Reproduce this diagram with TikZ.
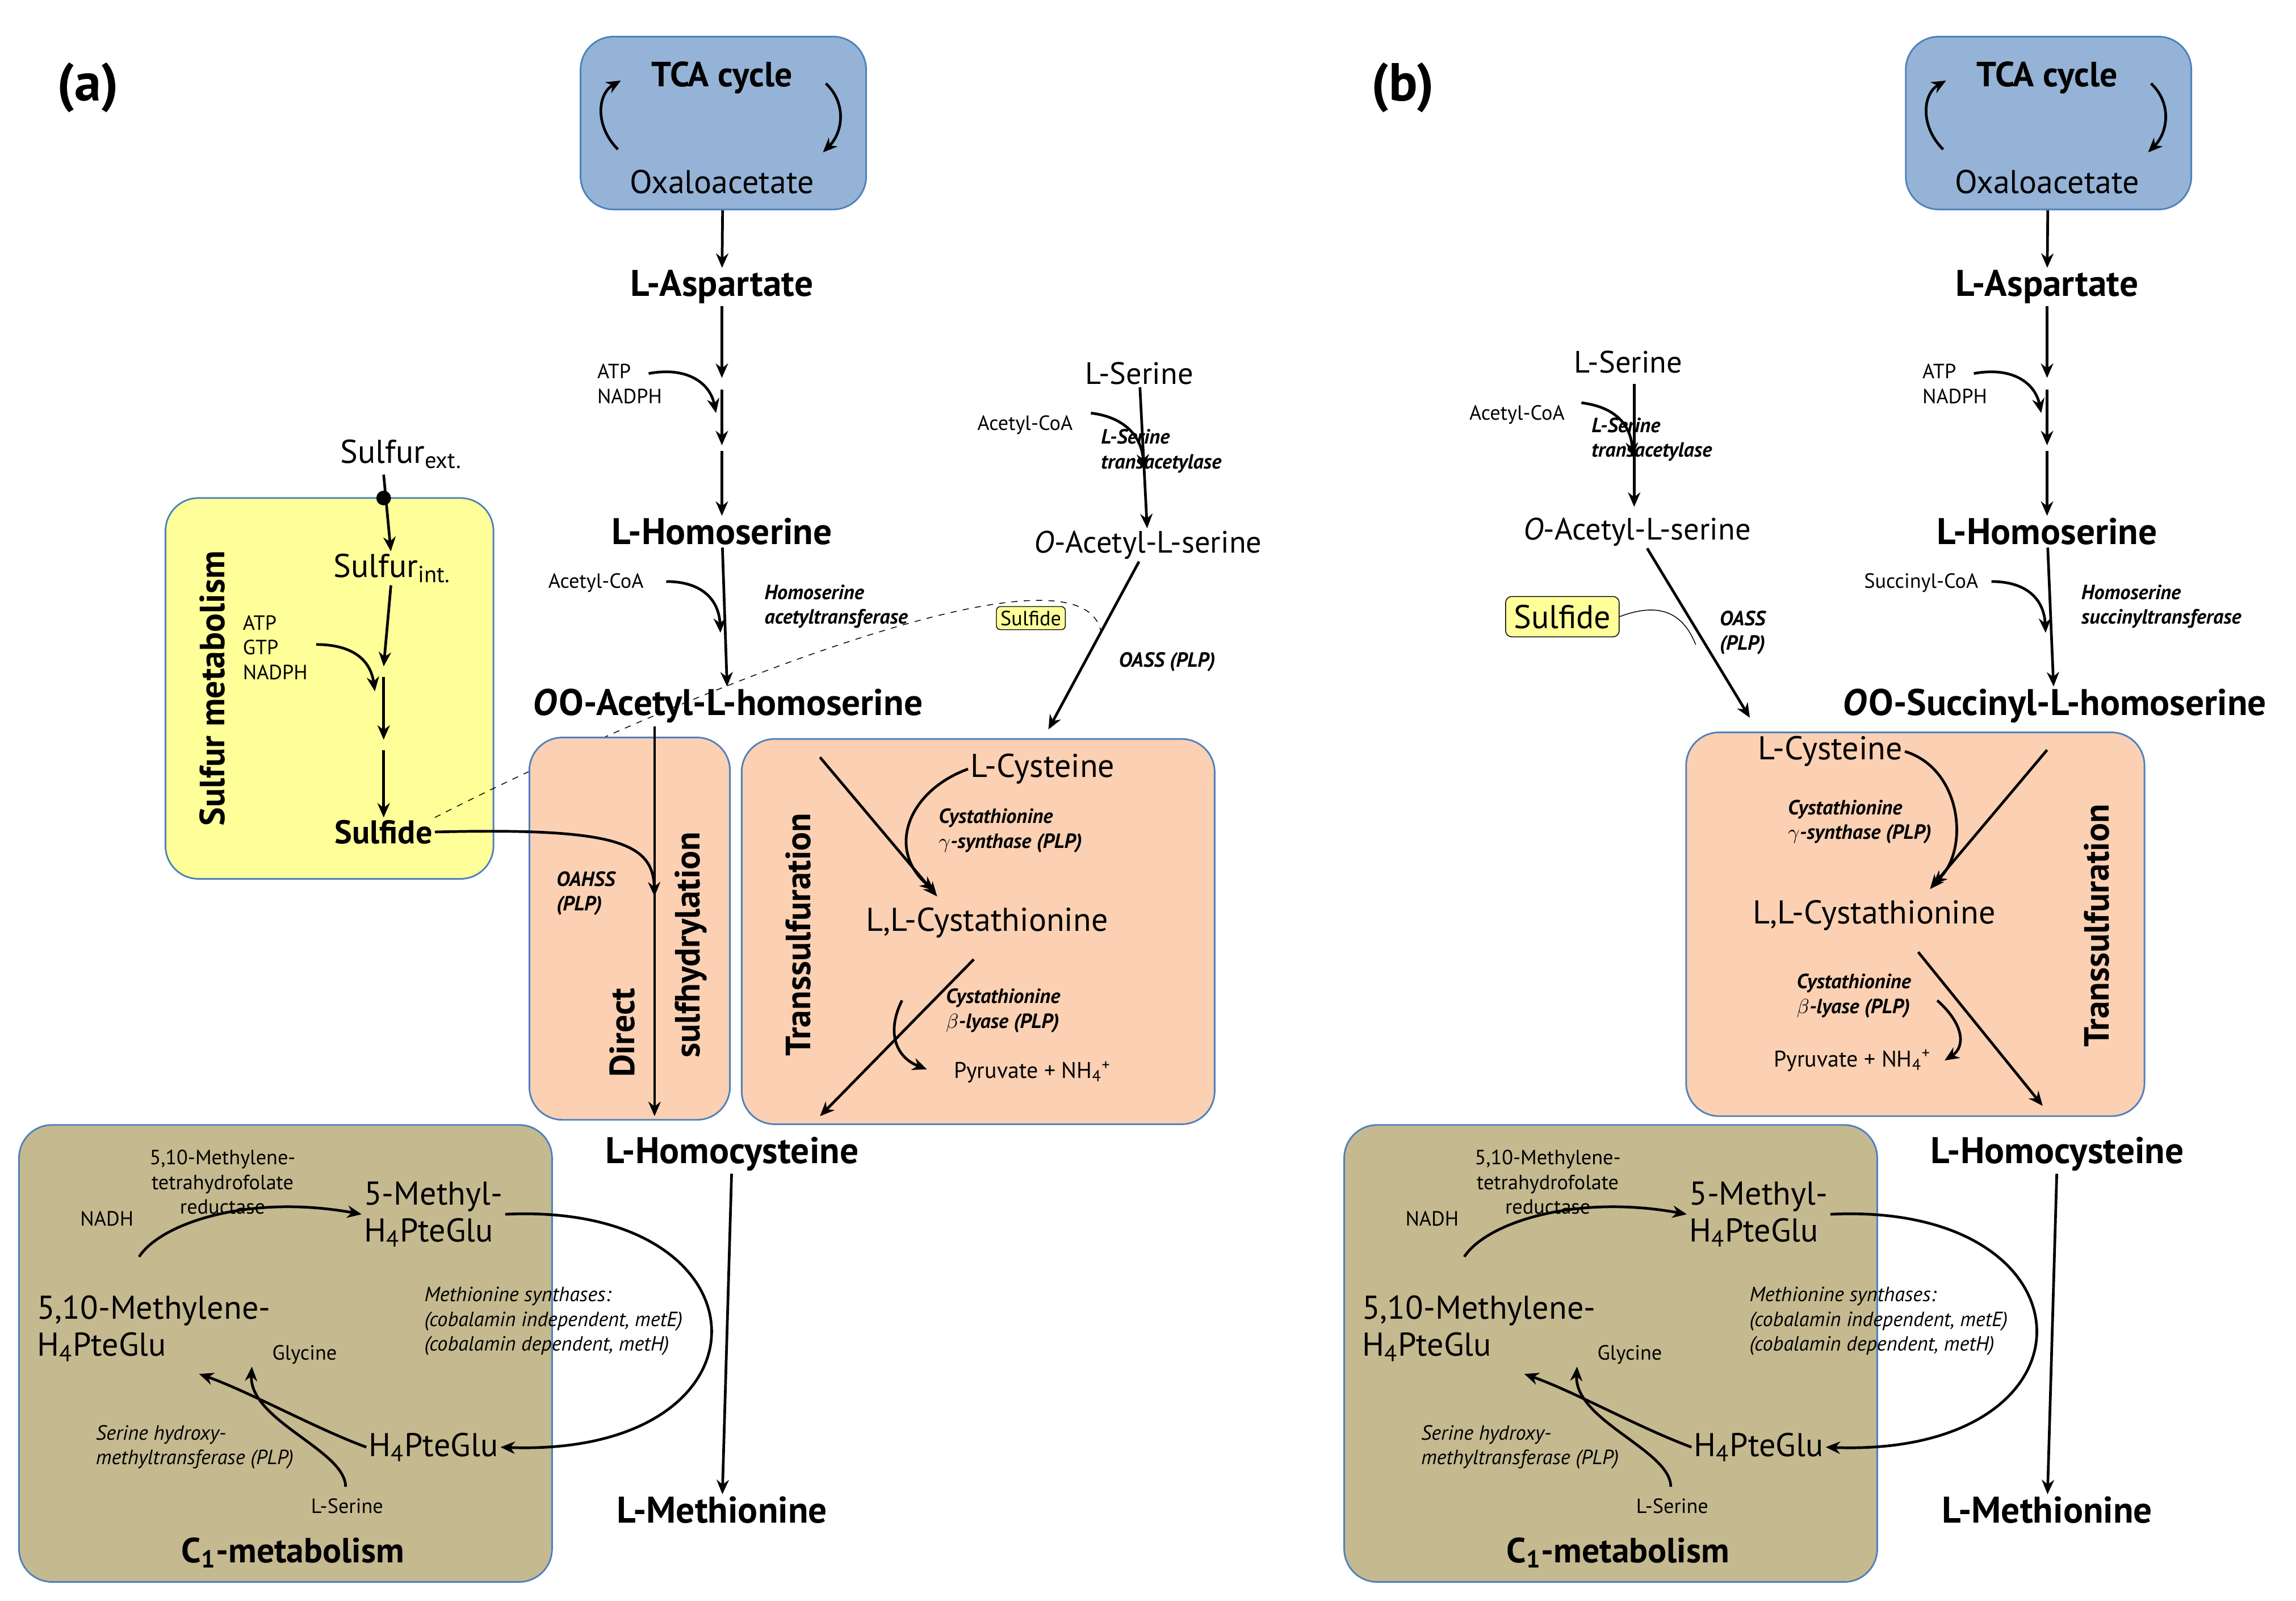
\documentclass[tikz,border=0pt]{standalone}
\usepackage{fontspec}
\setmainfont{PT Sans}
\usetikzlibrary{arrows.meta}
\definecolor{tcablue}{HTML}{95B3D7}
\definecolor{boxline}{HTML}{4F81BD}
\definecolor{peach}{HTML}{FBD0B3}
\definecolor{sulfy}{HTML}{FFFF99}
\definecolor{khaki}{HTML}{C5B98F}
\tikzset{
  met/.style={font=\fontsize{18}{20}\selectfont\bfseries,inner sep=1pt},
  cmp/.style={font=\fontsize{15}{17}\selectfont,inner sep=1pt,align=center},
  sml/.style={font=\fontsize{10}{12}\selectfont,inner sep=1pt,align=left},
  enz/.style={font=\fontsize{10}{12}\selectfont\bfseries\itshape,inner sep=1pt,align=left},
  ita/.style={font=\fontsize{10}{12}\selectfont\itshape,inner sep=1pt,align=left},
  ttl/.style={font=\fontsize{17}{19}\selectfont\bfseries,inner sep=1pt},
  box/.style={draw=boxline,line width=0.8pt,rounded corners=16pt},
  rxn/.style={-{Stealth[length=7pt,width=6pt]},line width=1.3pt},
}
\begin{document}
\begin{tikzpicture}[x=0.025cm,y=-0.025cm]
\useasboundingbox (0,0) rectangle (1568,1093);
%% shared parts of both panels
\foreach \dx/\p/\hs/\hsc/\ac/\en in {0/a/O-Acetyl/Acetyl-CoA/acetyl/497,905/b/O-Succinyl/Succinyl-CoA/succinyl/498}{
\begin{scope}[xshift=\dx*0.025cm]
  \node[box,fill=tcablue,minimum width=195*0.025cm,minimum height=118*0.025cm] (tca\p) at (494,84) {};
  \node[ttl] (tcat\p) at (493,53) {TCA cycle};
  \node[cmp,font=\fontsize{16}{18}\selectfont] (oaa\p) at (493,124) {Oxaloacetate};
  \draw[rxn] (422,102) .. controls (406,86) and (408,64) .. (424,55);
  \draw[rxn] (564,57) .. controls (578,70) and (576,90) .. (562,104);
  \node[met] (asp\p) at (493,196) {L-Aspartate};
  \node[met] (hser\p) at (493,363) {L-Homoserine};
  \coordinate (s1\p) at (493,258);
  \coordinate (s2\p) at (493,308);
  \node[sml] (atp\p) at (430,262) {ATP\\NADPH};
  \draw[rxn] (tca\p) -- (asp\p);
  \draw[rxn] (asp\p) -- (s1\p);
  \draw[rxn] (s1\p) ++(0,8) -- ++(0,38);
  \draw[rxn] (s2\p) -- (hser\p);
  \draw[rxn] (443,255) .. controls (470,250) and (485,262) .. (489,282);
  \node[sml] (acoa\p) at ({\ifx\p a 412\else 407\fi},398) {\hsc};
  \node[enz] (hat\p) at (571,414) {Homoserine\\\ac transferase};
  \node[met] (ahs\p) at (\en,482) {\textit{O}\kern1pt\hs-L-homoserine};
  \node[met] (hcy\p) at (500,788) {L-Homocysteine};
  \node[met] (met\p) at (493,1031) {L-Methionine};
  \draw[rxn] (hser\p) -- (ahs\p);
  \draw[rxn] (455,397) .. controls (480,397) and (491,410) .. (492,432);
  \draw[rxn] (hcy\p) -- (met\p);
  % C1 metabolism
  \node[box,fill=khaki,minimum width=364*0.025cm,minimum height=312*0.025cm] (cbox\p) at (195,924) {};
  \node[ttl] (c1\p) at (200,1060) {C\textsubscript{1}-metabolism};
  \node[cmp,font=\fontsize{16}{18}\selectfont,align=left] (mth\p) at (296,829) {5-Methyl-\\H\textsubscript{4}PteGlu};
  \node[cmp,font=\fontsize{16}{18}\selectfont,align=left] (mlh\p) at (105,907) {5,10-Methylene-\\H\textsubscript{4}PteGlu};
  \node[cmp,font=\fontsize{16}{18}\selectfont] (thf\p) at (296,988) {H\textsubscript{4}PteGlu};
  \node[sml,align=center] (mtr\p) at (152,807) {5,10-Methylene-\\tetrahydrofolate\\reductase};
  \node[sml] (nadh\p) at (73,832) {NADH};
  \node[sml] (gly\p) at (208,925) {Glycine};
  \node[sml] (lser\p) at (237,1028) {L-Serine};
  \node[ita,align=left] (shm\p) at (133,988) {Serine hydroxy-\\methyltransferase (PLP)};
  \node[ita] (ms\p) at (378,902) {Methionine synthases:\\(cobalamin independent, \textit{metE})\\(cobalamin dependent, \textit{metH})};
  \draw[rxn] (mth\p.east) .. controls (530,820) and (535,995) .. (thf\p.east);
  \draw[rxn] (95,858) .. controls (110,835) and (170,815) .. (mth\p.west);
  \draw[rxn] (thf\p.west) .. controls (215,975) and (170,950) .. (136,938);
  \draw[rxn] (236,1015) .. controls (236,990) and (170,970) .. (172,933);
\end{scope}}
%% panel (a)
\node[font=\fontsize{26}{28}\selectfont\bfseries] (la) at (60,60) {(a)};
\node[box,fill=sulfy,minimum width=224*0.025cm,minimum height=260*0.025cm] (sbox) at (225,470) {};
\node[ttl,rotate=90] (smet) at (145,470) {Sulfur metabolism};
\node[cmp,font=\fontsize{16}{18}\selectfont] (sext) at (274,310) {Sulfur\textsubscript{ext.}};
\node[cmp,font=\fontsize{16}{18}\selectfont] (sint) at (268,388) {Sulfur\textsubscript{int.}};
\node[met,font=\fontsize{16}{18}\selectfont\bfseries] (sulf) at (262,568) {Sulfide};
\node[sml] (atpg) at (188,442) {ATP\\GTP\\NADPH};
\fill (262,340) circle (5);
\draw[rxn] (262,324) -- (sint);
\coordinate (t1) at (262,455);
\coordinate (t2) at (262,505);
\draw[rxn] (sint) -- (t1);
\draw[rxn] (262,462) -- (t2);
\draw[rxn] (262,512) -- (sulf);
\draw[rxn] (216,440) .. controls (240,440) and (253,450) .. (256,472);
\node[cmp] (ser) at (778,255) {L-Serine};
\node[cmp] (oas) at (784,372) {\textit{O}-Acetyl-L-serine};
\node[sml] (acs) at (700,290) {Acetyl-CoA};
\node[enz] (sat) at (793,308) {L-Serine\\transacetylase};
\draw[rxn] (ser) -- (oas);
\draw[rxn] (745,282) .. controls (770,285) and (780,300) .. (781,320);
\node[sml,draw=black,fill=sulfy,rounded corners=2pt,inner sep=2pt] (ssm) at (704,422) {Sulfide};
\node[enz] (oass) at (797,452) {OASS (PLP)};
\draw[dashed] (sulf.north east) .. controls (450,480) and (740,360) .. (752,432);
% sulfhydrylation and transsulfuration
\node[box,fill=peach,minimum width=137*0.025cm,minimum height=261*0.025cm] (dbox) at (430,634) {};
\node[box,fill=peach,minimum width=323*0.025cm,minimum height=263*0.025cm] (tbox) at (668,636) {};
\node[ttl,rotate=90] (dir) at (425,705) {Direct};
\node[ttl,rotate=90] (sulfh) at (472,645) {sulfhydrylation};
\node[ttl,rotate=90] (tsa) at (545,638) {Transsulfuration};
\draw[rxn] (oas) -- (716,498);
\coordinate (dtop) at (447,496);
\coordinate (dbot) at (447,762);
\draw[rxn] (dtop) -- (dbot);
\draw[rxn] (sulf.east) .. controls (420,565) and (446,575) .. (447,612);
\node[enz] (oahss) at (400,610) {OAHSS\\(PLP)};
\node[cmp,font=\fontsize{16}{18}\selectfont] (cys) at (712,525) {L-Cysteine};
\node[cmp,font=\fontsize{16}{18}\selectfont] (cth) at (674,630) {L,L-Cystathionine};
\node[enz] (cgs) at (690,567) {Cystathionine\\$\gamma$-synthase (PLP)};
\node[enz] (cbl) at (685,690) {Cystathionine\\$\beta$-lyase (PLP)};
\node[sml,font=\fontsize{11}{13}\selectfont] (pyr) at (705,732) {Pyruvate + NH\textsubscript{4}\textsuperscript{+}};
\draw[rxn] (560,517) -- (640,612);
\draw[rxn] (cys.west) .. controls (620,540) and (605,580) .. (638,608);
\draw[rxn] (665,655) -- (560,762);
\draw[rxn] (616,683) .. controls (605,705) and (612,722) .. (633,730);
%% panel (b)
\node[font=\fontsize{26}{28}\selectfont\bfseries] (lb) at (958,60) {(b)};
\node[cmp] (serb) at (1112,247) {L-Serine};
\node[cmp] (oasb) at (1118,363) {\textit{O}-Acetyl-L-serine};
\node[sml] (acsb) at (1036,283) {Acetyl-CoA};
\node[enz] (satb) at (1128,300) {L-Serine\\transacetylase};
\draw[rxn] (1116,262) -- (1116,346);
\draw[rxn] (1080,275) .. controls (1105,278) and (1114,292) .. (1115,312);
\node[cmp,font=\fontsize{16}{18}\selectfont,draw=black,fill=sulfy,rounded corners=3pt,inner sep=4pt] (ssmb) at (1067,421) {Sulfide};
\node[enz] (oassb) at (1190,432) {OASS\\(PLP)};
\coordinate (oasend) at (1195,490);
\draw[rxn] (oasb) -- (oasend);
\draw (ssmb.east) .. controls (1135,410) and (1150,420) .. (1158,440);
\node[box,fill=peach,minimum width=313*0.025cm,minimum height=262*0.025cm] (tboxb) at (1308,631) {};
\node[ttl,rotate=90] (tsab) at (1432,632) {Transsulfuration};
\node[cmp,font=\fontsize{16}{18}\selectfont] (cysb) at (1250,513) {L-Cysteine};
\node[cmp,font=\fontsize{16}{18}\selectfont] (cthb) at (1280,625) {L,L-Cystathionine};
\node[enz] (cgsb) at (1270,561) {Cystathionine\\$\gamma$-synthase (PLP)};
\node[enz] (cblb) at (1266,680) {Cystathionine\\$\beta$-lyase (PLP)};
\node[sml,font=\fontsize{11}{13}\selectfont] (pyrb) at (1265,724) {Pyruvate + NH\textsubscript{4}\textsuperscript{+}};
\draw[rxn] (1398,512) -- (1318,607);
\draw[rxn] (cysb.east) .. controls (1340,525) and (1345,580) .. (1320,604);
\draw[rxn] (1310,650) -- (1395,755);
\draw[rxn] (1323,683) .. controls (1342,700) and (1342,715) .. (1328,724);
\end{tikzpicture}
\end{document}
